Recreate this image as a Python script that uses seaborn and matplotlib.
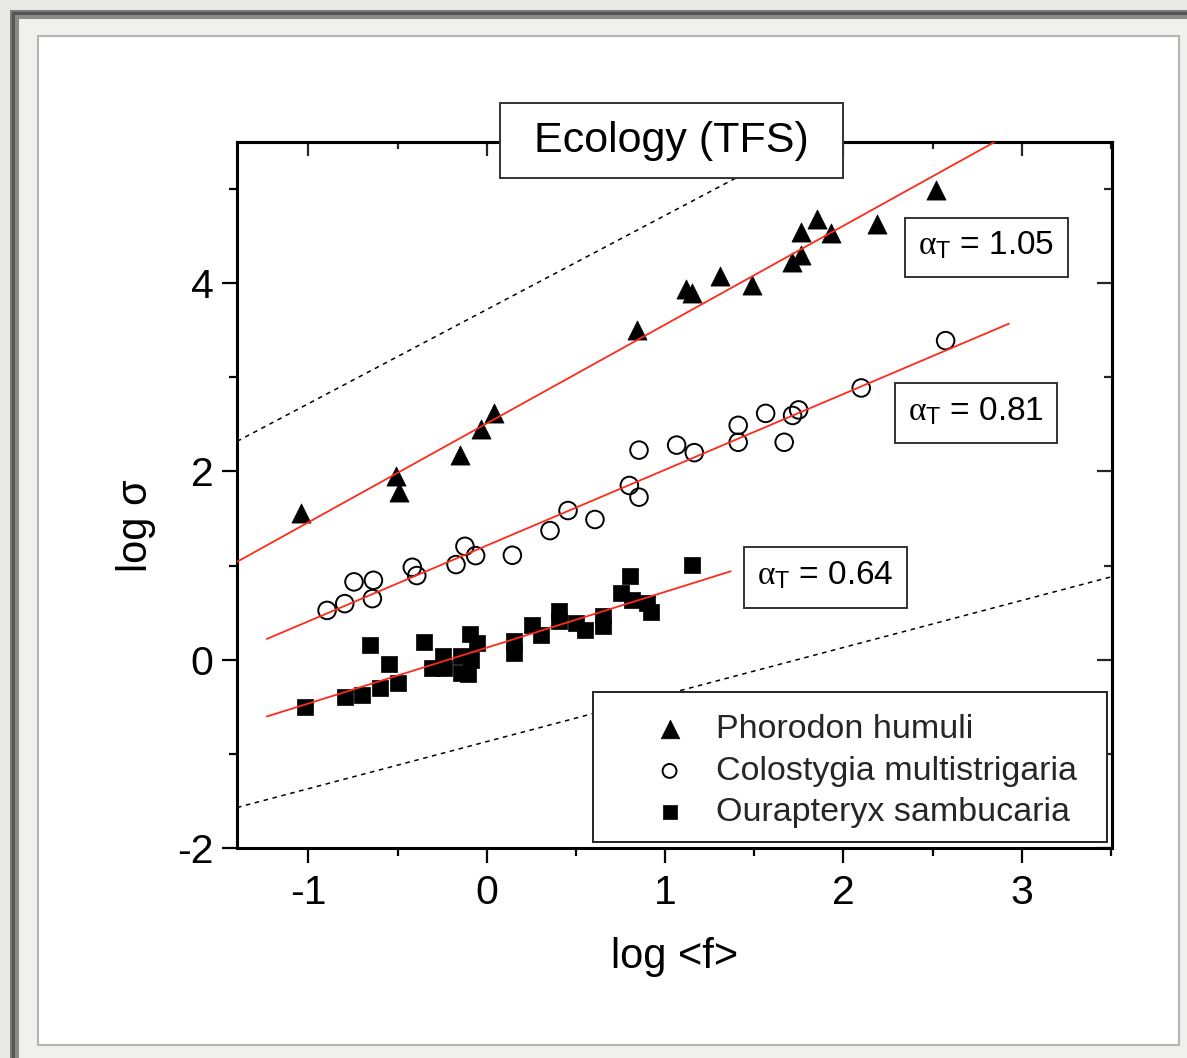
import numpy as np
import pandas as pd
import matplotlib
matplotlib.use("Agg")
import matplotlib.pyplot as plt
from matplotlib.patches import Rectangle
from matplotlib.ticker import MultipleLocator, FixedLocator
import seaborn as sns

# ---------------- data ----------------
phorodon_x = [-1.04, -0.51, -0.49, -0.15, -0.03, 0.04, 0.84, 1.12, 1.15, 1.31, 1.49,
              1.71, 1.76, 1.76, 1.85, 1.93, 2.19, 2.52]
phorodon_y = [1.56, 1.95, 1.78, 2.17, 2.45, 2.62, 3.50, 3.94, 3.90, 4.08, 3.98,
              4.22, 4.30, 4.54, 4.68, 4.53, 4.63, 4.99]

colost_x = [-0.895, -0.796, -0.744, -0.635, -0.641, -0.417, -0.392, -0.172, -0.122,
            -0.062, 0.144, 0.355, 0.456, 0.607, 0.80, 0.854, 0.854, 1.065, 1.164,
            1.41, 1.41, 1.564, 1.668, 1.715, 1.749, 2.10, 2.573]
colost_y = [0.524, 0.596, 0.827, 0.844, 0.649, 0.982, 0.894, 1.011, 1.205,
            1.106, 1.110, 1.372, 1.585, 1.490, 1.851, 2.227, 1.727, 2.280, 2.200,
            2.490, 2.310, 2.617, 2.310, 2.595, 2.654, 2.887, 3.390]

ourap_x = [-1.02, -0.796, -0.697, -0.654, -0.598, -0.548, -0.50, -0.351, -0.304,
           -0.243, -0.239, -0.146, -0.146, -0.095, -0.052, -0.09, -0.105, 0.153,
           0.153, 0.256, 0.303, 0.405, 0.405, 0.499, 0.549, 0.654, 0.654, 0.751,
           0.803, 0.817, 0.90, 0.923, 1.153]
ourap_y = [-0.50, -0.397, -0.372, 0.16, -0.301, -0.043, -0.248, 0.184, -0.089,
           0.035, -0.089, 0.035, -0.142, 0.273, 0.177, 0.0, -0.149, 0.195,
           0.071, 0.372, 0.266, 0.514, 0.407, 0.39, 0.319, 0.461, 0.354, 0.71,
           0.886, 0.638, 0.603, 0.503, 1.003]

species = ["Phorodon humuli", "Colostygia multistrigaria", "Ourapteryx sambucaria"]
alpha_labels = ["1.05", "0.81", "0.64"]

# fitted lines (slope, intercept, x-range)
fit_slope = [1.05, 0.805, 0.593]
fit_intercept = [2.51, 1.213, 0.128]
fit_xrange = [(-1.40, 2.90), (-1.233, 2.928), (-1.233, 1.368)]

# reference (dashed) lines
ref_slope = [1.0, 0.5]
ref_intercept = [3.72, -0.87]
ref_xrange = [(-1.40, 1.80), (-1.40, 3.51)]

x_ticks = [-1, 0, 1, 2, 3]
y_ticks = [-2, 0, 2, 4]

# ---------------- figure ----------------
W, H = 1187, 1058
DPI = 100
sns.set_theme(style="ticks")
plt.rcParams["font.family"] = ["Liberation Sans", "DejaVu Sans"]
plt.rcParams["mathtext.fontset"] = "custom"
plt.rcParams["mathtext.rm"] = "Liberation Sans"
plt.rcParams["mathtext.it"] = "Liberation Serif"
plt.rcParams["axes.unicode_minus"] = False

fig = plt.figure(figsize=(W / DPI, H / DPI), dpi=DPI, facecolor="#e9e9e6")


def frect(x0, y0, x1, y1, **kw):
    r = Rectangle((x0 / W, 1 - y1 / H), (x1 - x0) / W, (y1 - y0) / H,
                  transform=fig.transFigure, **kw)
    fig.add_artist(r)
    return r


# outer decorative frame
frect(10, 10, W + 5, H + 5, facecolor="#7a7a78", edgecolor="none", zorder=-20)
frect(12, 12, W + 5, H + 5, facecolor="#555555", edgecolor="none", zorder=-19)
frect(15, 15, W + 5, H + 5, facecolor="#8a8a88", edgecolor="none", zorder=-18)
frect(19, 19, W + 5, H + 5, facecolor="#f0f0ee", edgecolor="none", zorder=-17)
frect(38, 36, 1179, 1045, facecolor="white", edgecolor="#b4b4b2", linewidth=1.5, zorder=-16)

ax = fig.add_axes([237 / W, 1 - 848 / H, 875 / W, 706 / H])
ax.set_facecolor("white")

# scatter points
sns.scatterplot(x=phorodon_x, y=phorodon_y, ax=ax, marker="^", s=190, color="black",
                edgecolor="black", linewidth=0.5, label=species[0], zorder=2)
sns.scatterplot(x=colost_x, y=colost_y, ax=ax, marker="o", s=160, facecolor="none",
                edgecolor="black", linewidth=1.4, label=species[1], zorder=2)
sns.scatterplot(x=ourap_x, y=ourap_y, ax=ax, marker="s", s=125, color="black",
                edgecolor="black", linewidth=0.5, label=species[2], zorder=2)

# fit lines
for m, b, (x0, x1) in zip(fit_slope, fit_intercept, fit_xrange):
    xs = np.array([x0, x1])
    sns.lineplot(x=xs, y=m * xs + b, ax=ax, color="#ff2a1a", linewidth=1.3,
                 zorder=3, legend=False)

# reference dashed lines
for m, b, (x0, x1) in zip(ref_slope, ref_intercept, ref_xrange):
    xs = np.array([x0, x1])
    sns.lineplot(x=xs, y=m * xs + b, ax=ax, color="black", linewidth=1.1,
                 linestyle=(0, (3, 3)), zorder=1, legend=False)

ax.set_xlim(-1.40, 3.506)
ax.set_ylim(-2.0, 5.5)

# axes styling
for sp in ax.spines.values():
    sp.set_visible(True)
    sp.set_linewidth(2.2)
    sp.set_color("black")

ax.xaxis.set_major_locator(FixedLocator(x_ticks))
ax.xaxis.set_minor_locator(MultipleLocator(0.5))
ax.yaxis.set_major_locator(FixedLocator(y_ticks))
ax.yaxis.set_minor_locator(MultipleLocator(1.0))
ax.tick_params(which="major", direction="out", length=11, width=1.6,
               labelsize=29.5, color="black", labelcolor="black")
ax.tick_params(which="minor", direction="out", length=6, width=1.6, color="black")
ax.tick_params(axis="x", which="major", pad=8)
ax.tick_params(axis="y", which="major", pad=6)

secx = ax.secondary_xaxis("top")
secx.xaxis.set_major_locator(FixedLocator(x_ticks))
secx.xaxis.set_minor_locator(MultipleLocator(0.5))
secx.tick_params(which="major", direction="in", length=10, width=1.6, labeltop=False)
secx.tick_params(which="minor", direction="in", length=5, width=1.6)
secx.spines["top"].set_linewidth(2.2)

secy = ax.secondary_yaxis("right")
secy.yaxis.set_major_locator(FixedLocator(y_ticks))
secy.yaxis.set_minor_locator(MultipleLocator(1.0))
secy.tick_params(which="major", direction="in", length=11, width=1.6, labelright=False)
secy.tick_params(which="minor", direction="in", length=6, width=1.6)
secy.spines["right"].set_linewidth(2.2)

ax.set_xlabel("log <f>", fontsize=30, color="black")
ax.set_ylabel("log σ", fontsize=30, color="black")
ax.xaxis.set_label_coords(0.5, -0.126)
ax.xaxis.label.set_va("top")
ax.yaxis.set_label_coords(-0.092, 0.457)


def arect(x0, y0, x1, y1, **kw):
    r = Rectangle((x0 / W, 1 - y1 / H), (x1 - x0) / W, (y1 - y0) / H,
                  transform=fig.transFigure, clip_on=False, **kw)
    ax.add_artist(r)
    return r


# legend: frame drawn as rectangle, entries via legend
arect(593, 692, 1107, 842, facecolor="white", edgecolor="#222222", linewidth=1.4, zorder=4)
leg = ax.legend(loc="upper left", bbox_to_anchor=((593 - 237) / 875, (848 - 699) / 706),
                frameon=False, fontsize=24.5, handlelength=3.6, handletextpad=-0.45,
                borderpad=0.45, labelspacing=0.31, borderaxespad=0)
leg.set_zorder(5)
for h, s in zip(leg.legend_handles, [180, 100, 115]):
    h.set_sizes([s])

# title box
arect(500, 103, 843, 178, facecolor="white", edgecolor="#333333", linewidth=1.4, zorder=6)
fig.text(671 / W, 1 - 141 / H, "Ecology (TFS)", fontsize=31, ha="center", va="center",
         color="black", zorder=7)

# alpha boxes
alpha_boxes = [(905, 218, 1068, 277), (895, 383, 1057, 443), (744, 547, 907, 608)]
for (x0, y0, x1, y1), lab in zip(alpha_boxes, alpha_labels):
    arect(x0, y0, x1, y1, facecolor="white", edgecolor="#333333", linewidth=1.4, zorder=6)
    fig.text((x0 + x1) / 2 / W, 1 - ((y0 + y1) / 2 - 2) / H,
             r"$\alpha_{\mathrm{T}}$ = " + lab, fontsize=24, ha="center", va="center",
             color="black", zorder=7)

fig.savefig("out.png", dpi=DPI, facecolor=fig.get_facecolor())
